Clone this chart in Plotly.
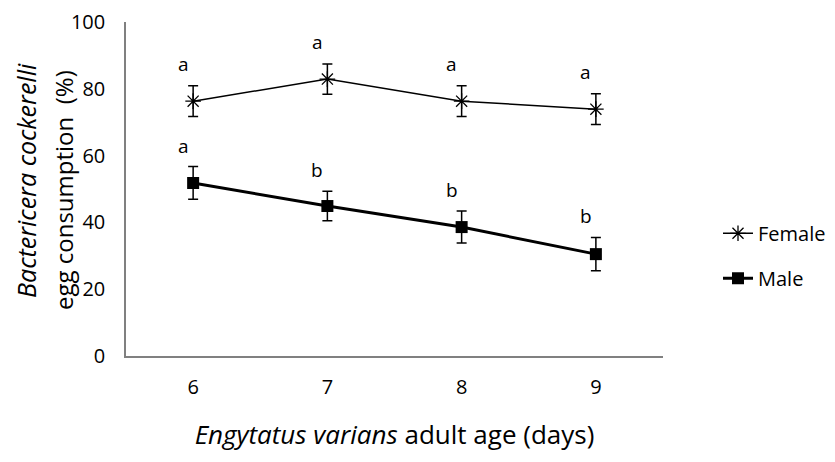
import plotly.graph_objects as go

ages = ["6", "7", "8", "9"]
female_mean = [76.3, 82.9, 76.3, 73.9]
female_err = [4.6, 4.5, 4.6, 4.6]
male_mean = [51.8, 44.9, 38.6, 30.5]
male_err = [4.9, 4.4, 4.8, 5.0]
female_letters = ["a", "a", "a", "a"]
male_letters = ["a", "b", "b", "b"]

FONT = "Open Sans"
fig = go.Figure()
fig.add_trace(go.Scatter(
    x=ages, y=female_mean, name="Female", mode="lines+markers",
    line=dict(color="black", width=1.5),
    marker=dict(symbol="asterisk-open", size=13, color="black", line=dict(color="black", width=1.3)),
    error_y=dict(type="data", array=female_err, color="black", thickness=1.5, width=5),
    legendgroup="f",
))
fig.add_trace(go.Scatter(
    x=ages, y=male_mean, name="Male", mode="lines+markers",
    line=dict(color="black", width=3),
    marker=dict(symbol="square", size=12, color="black"),
    error_y=dict(type="data", array=male_err, color="black", thickness=1.5, width=5),
    legendgroup="m",
))

for i, (m, e, t) in enumerate(zip(female_mean, female_err, female_letters)):
    fig.add_annotation(x=i, y=m + e, text=t, showarrow=False, xshift=-10, yshift=22,
                       font=dict(size=19, color="black", family=FONT))
for i, (m, e, t) in enumerate(zip(male_mean, male_err, male_letters)):
    fig.add_annotation(x=i, y=m + e, text=t, showarrow=False, xshift=-10, yshift=21,
                       font=dict(size=19, color="black", family=FONT))

fig.add_annotation(xref="paper", yref="paper", x=(26 - 126) / 537, y=(356 - 181) / 334,
                   xanchor="center", yanchor="middle", textangle=-90,
                   text="<i>Bactericera cockerelli</i>", showarrow=False,
                   font=dict(size=25, color="black", family=FONT))
fig.add_annotation(xref="paper", yref="paper", x=(63 - 126) / 537, y=(356 - 190) / 334,
                   xanchor="center", yanchor="middle", textangle=-90,
                   text="egg consumption  (%)", showarrow=False,
                   font=dict(size=24, color="black", family=FONT))

# page body has an 8px default margin; figure is sized/offset to fill the 835x462 window
fig.update_layout(
    width=827, height=454,
    margin=dict(l=118, r=172, t=14, b=106, autoexpand=False),
    plot_bgcolor="white", paper_bgcolor="white",
    font=dict(family=FONT, color="black", size=20),
    showlegend=True,
    legend=dict(x=(718 - 126) / 537, y=0.30, xanchor="left", yanchor="middle",
                font=dict(size=20), tracegroupgap=16, traceorder="grouped",
                bgcolor="rgba(0,0,0,0)"),
    xaxis=dict(
        type="category", range=[-0.5, 3.5], showline=True, linecolor="#808080", linewidth=1.5,
        showgrid=False, zeroline=False, ticks="", ticklabelstandoff=12, automargin=False,
        tickfont=dict(size=20),
        title=dict(text="<i>Engytatus varians</i> adult age (days)", font=dict(size=26), standoff=27),
    ),
    yaxis=dict(
        range=[0, 100], tickvals=[0, 20, 40, 60, 80, 100], showline=True, linecolor="#808080",
        linewidth=1.5, showgrid=False, zeroline=False, ticks="", ticklabelstandoff=15,
        automargin=False, tickfont=dict(size=20),
    ),
)
fig.write_html("out.html")
